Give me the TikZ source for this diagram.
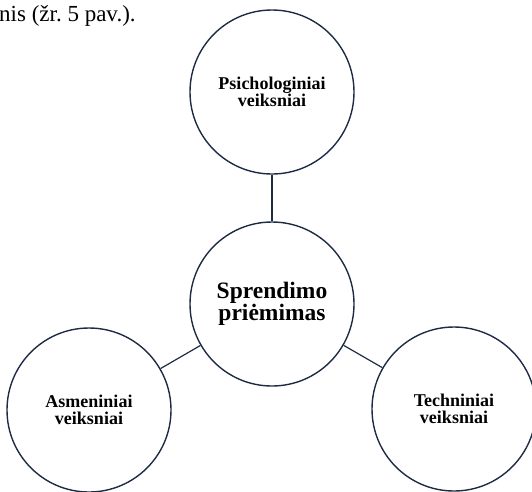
\documentclass[tikz,border=0pt]{standalone}
\usepackage{fontspec}
\setmainfont{Liberation Serif}
\definecolor{ink}{HTML}{1E2B45}
\begin{document}
\begin{tikzpicture}[x=1pt,y=-1pt,
  factor/.style={circle,draw=ink,line width=1.4pt,minimum size=164pt,inner sep=0pt,
    align=center,font=\bfseries\fontsize{18}{17.5}\selectfont},
  hub/.style={factor,font=\bfseries\fontsize{23.5}{22}\selectfont},
  link/.style={draw=ink,line width=1.2pt}]
\useasboundingbox (0,0) rectangle (532,491);
\clip (0,0) rectangle (532,491);
% preceding sentence of the running text
\node[anchor=base west,inner sep=0pt,font=\fontsize{23}{23}\selectfont] (caption) at (-1,21) {nis (žr.~5 pav.).};
% factor circles
\node[factor] (psy) at (272,92) {Psichologiniai\\veiksniai};
\node[hub] (dec) at (272,304) {Sprendimo\\priėmimas};
\node[factor] (per) at (89,410) {Asmeniniai\\veiksniai};
\node[factor] (tec) at (454,409) {Techniniai\\veiksniai};
% connectors
\path[link] (psy) -- (dec);
\path[link] (dec) -- (per);
\path[link] (dec) -- (tec);
\end{tikzpicture}
\end{document}
